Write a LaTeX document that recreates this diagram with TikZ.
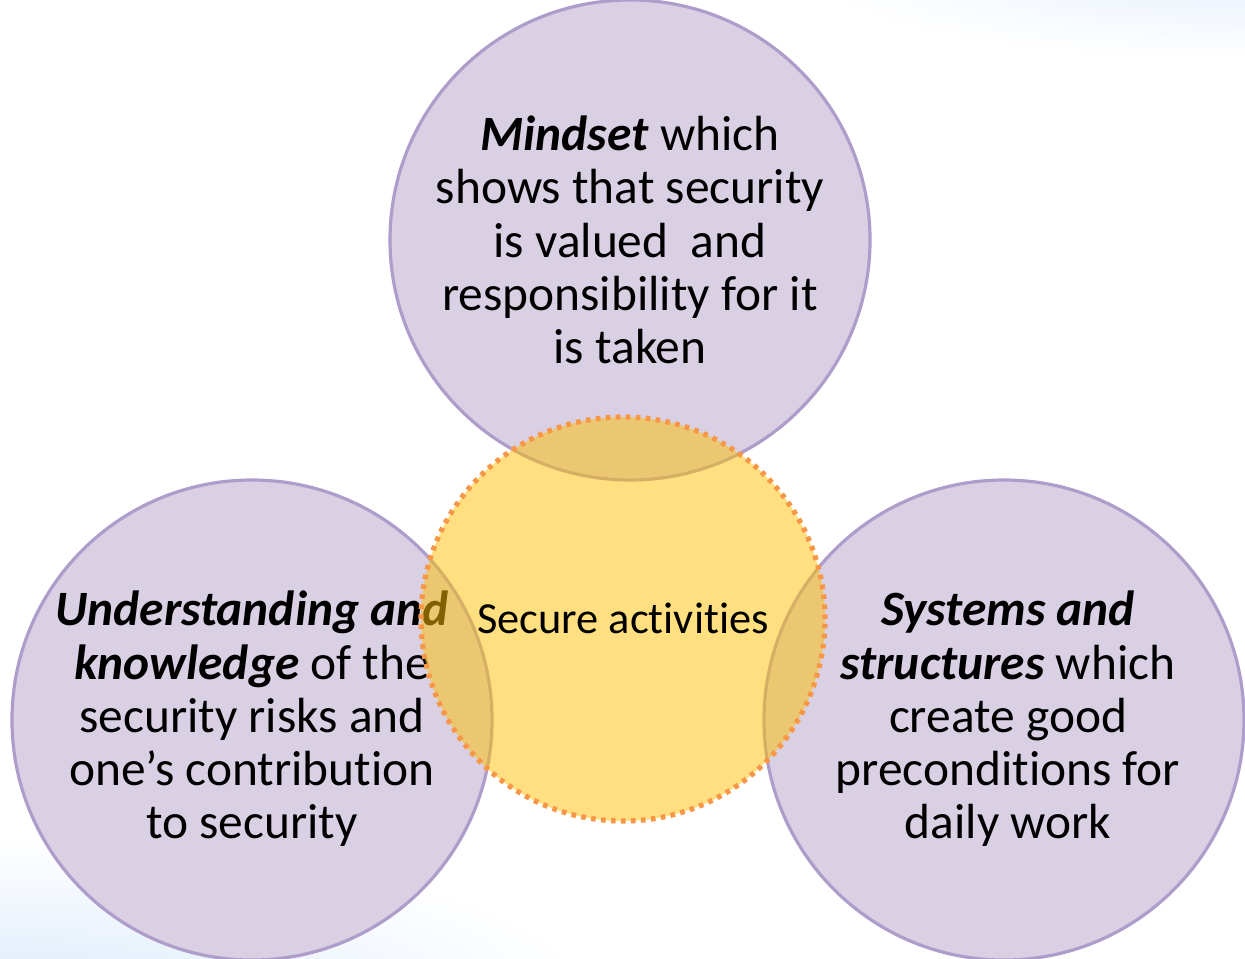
\documentclass[tikz,border=0pt]{standalone}
\usepackage{fontspec}
\setmainfont{Carlito}[Ligatures=NoCommon]
\begin{document}
\begin{tikzpicture}[x=0.5pt,y=-0.5pt,
  purplecirc/.style={fill=purplefill,draw=purpleline,line width=1.6pt},
  yellowcirc/.style={fill=goldfill,fill opacity=0.5,draw=orangedot,draw opacity=1,line width=2.6pt,dash pattern=on 2.3pt off 2.7pt},
  lbl/.style={align=center,font=\fontsize{24.7pt}{26.6pt}\selectfont,text=black,inner sep=0pt}]
\definecolor{purplefill}{HTML}{D9D0E4}
\definecolor{purpleline}{HTML}{AE9DCA}
\definecolor{goldfill}{HTML}{FFC000}
\definecolor{orangedot}{HTML}{F79646}
\definecolor{bgblue}{HTML}{DCEAFA}
\useasboundingbox (0,0) rectangle (1245,958);
\begin{scope}
\clip (0,0) rectangle (1245,958);
\fill[white] (0,0) rectangle (1245,958);
\shade[inner color=bgblue,outer color=white] (0,1000) ellipse [x radius=300pt,y radius=80pt];
\shade[inner color=bgblue!70,outer color=white] (1245,-30) ellipse [x radius=220pt,y radius=45pt];
\end{scope}
\draw[purplecirc] (630,240) circle[radius=120pt];
\draw[purplecirc] (252,720) circle[radius=120pt];
\draw[purplecirc] (1004,720) circle[radius=120pt];
\node[lbl] (mind) at (630,240) {\textbf{\textit{Mindset}} which\\shows that security\\is valued\ \ and\\responsibility for it\\is taken};
\node[lbl] (under) at (252,719) {\textbf{\textit{Understanding and}}\\\textbf{\textit{knowledge}} of the\\security risks and\\one’s contribution\\to security};
\node[lbl] (sys) at (1008,719) {\textbf{\textit{Systems and}}\\\textbf{\textit{structures}} which\\create good\\preconditions for\\daily work};
\draw[yellowcirc] (623,619) circle[radius=101pt];
\node[lbl,font=\fontsize{22.2pt}{26.6pt}\selectfont] (secure) at (623,618) {Secure activities};
\end{tikzpicture}
\end{document}
